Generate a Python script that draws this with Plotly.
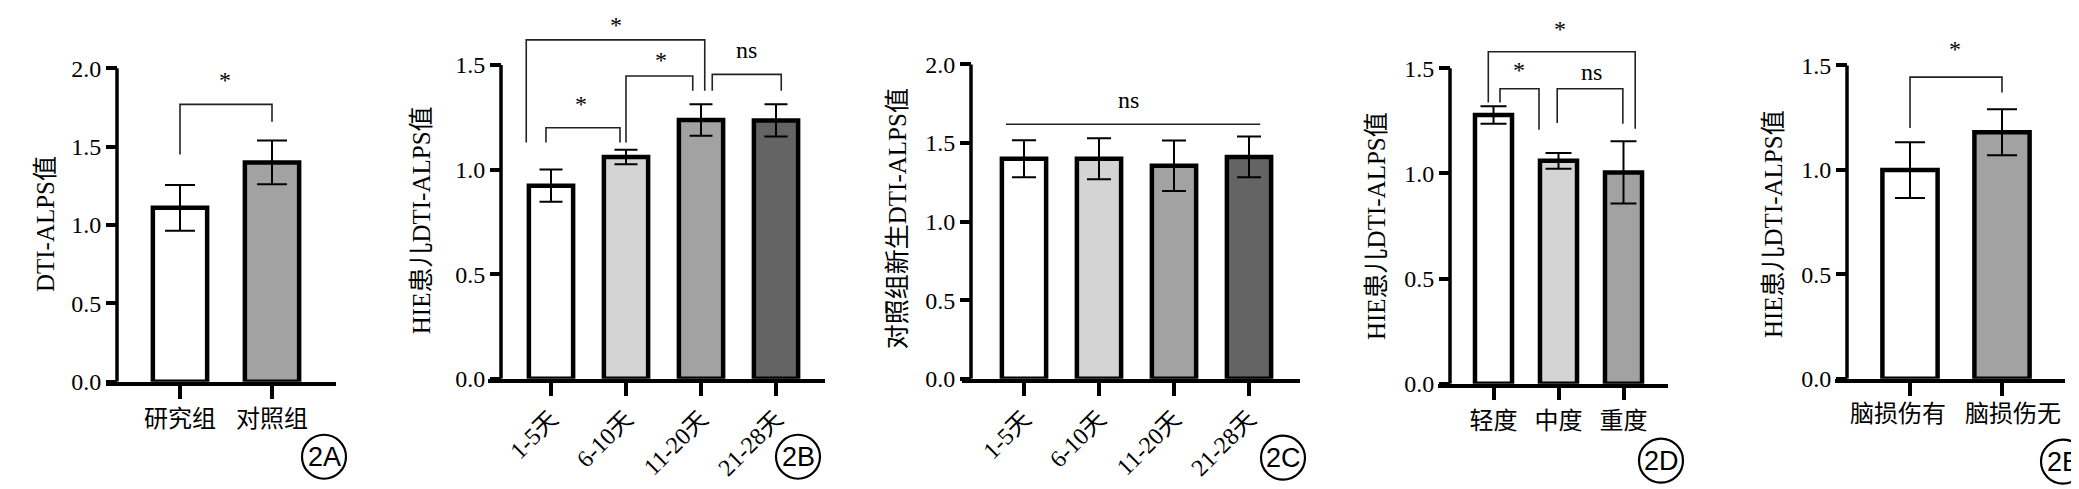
import plotly.graph_objects as go

W, H = 2079, 489

# ---------------- data ----------------
cats_A = ["研究组", "对照组"]
vals_A = [1.11, 1.40]
errs_A = [0.146, 0.14]

cats_B = ["1-5天", "6-10天", "11-20天", "21-28天"]
vals_B = [0.923, 1.06, 1.237, 1.235]
errs_B = [0.077, 0.035, 0.075, 0.077]

cats_C = ["1-5天", "6-10天", "11-20天", "21-28天"]
vals_C = [1.40, 1.40, 1.356, 1.412]
errs_C = [0.118, 0.13, 0.161, 0.13]

cats_D = ["轻度", "中度", "重度"]
vals_D = [1.278, 1.06, 1.005]
errs_D = [0.042, 0.037, 0.148]

cats_E = ["脑损伤有", "脑损伤无"]
vals_E = [0.999, 1.18]
errs_E = [0.133, 0.11]

ytitles = ["DTI-ALPS值", "HIE患儿DTI-ALPS值", "对照组新生DTI-ALPS值",
           "HIE患儿DTI-ALPS值", "HIE患儿DTI-ALPS值"]
ytickvals = [[0, 0.5, 1.0, 1.5, 2.0], [0, 0.5, 1.0, 1.5], [0, 0.5, 1.0, 1.5, 2.0],
             [0, 0.5, 1.0, 1.5], [0, 0.5, 1.0, 1.5]]
panel_labels = ["2A", "2B", "2C", "2D", "2E"]

# significance brackets: (x_left, x_right, y_bar, y_left_end, y_right_end)
brackets_A = [(0, 1, 1.77, 1.45, 1.66)]
brackets_B = [(-0.067, 0.92, 1.20, 1.13, 1.13),
              (1.0, 1.89, 1.447, 1.13, 1.377),
              (-0.33, 2.05, 1.62, 1.13, 1.377),
              (2.15, 3.07, 1.455, 1.377, 1.377)]
brackets_C = [(-0.24, 3.15, 1.62, 1.62, 1.62)]
brackets_D = [(0.10, 0.70, 1.403, 1.338, 1.208),
              (0.98, 1.99, 1.403, 1.24, 1.236),
              (-0.08, 2.18, 1.579, 1.338, 1.213)]
brackets_E = [(0, 1, 1.444, 1.20, 1.37)]
# significance labels: (x, y, text)
sig_A = [(0.49, 1.888, "*")]
sig_B = [(0.40, 1.284, "*"), (1.46, 1.493, "*"), (0.87, 1.68, "*"), (2.61, 1.553, "ns")]
sig_C = [(1.39, 1.75, "ns")]
sig_D = [(0.39, 1.463, "*"), (1.50, 1.463, "ns"), (1.02, 1.657, "*")]
sig_E = [(0.49, 1.55, "*")]

# category-label positions of panel E (labels sit a little apart from the ticks)
label_pos_E = [-0.13, 1.12]

WHITE, LIGHT, MID, DARK = "#ffffff", "#d4d4d4", "#a2a2a2", "#646464"
colors = [[WHITE, MID], [WHITE, LIGHT, MID, DARK], [WHITE, LIGHT, MID, DARK],
          [WHITE, LIGHT, MID], [WHITE, MID]]

# ---------------- layout geometry (pixels) ----------------
geo = [
    dict(xd=(98, 328), ypos=109, t0=172, step=92, y0=384, ppu=161.0, bw=0.59, cap=15, angle=0),
    dict(xd=(480, 817), ypos=493, t0=543, step=75, y0=381, ppu=215.0, bw=0.59, cap=11.5, angle=-45),
    dict(xd=(954, 1292), ypos=963, t0=1016, step=75, y0=381, ppu=161.5, bw=0.59, cap=12, angle=-45),
    dict(xd=(1430, 1660), ypos=1442, t0=1485.5, step=65, y0=386, ppu=216.0, bw=0.57, cap=13, angle=0),
    dict(xd=(1827, 2057), ypos=1839, t0=1902, step=92, y0=381, ppu=214.7, bw=0.60, cap=15, angle=0),
]
ytitle_pos = [(37, 222), (413, 218), (889, 217), (1368, 224), (1765, 222)]
circle_pos = [(316, 461), (790, 461), (1275, 462), (1653, 465), (2055, 466)]


def fx(px):
    return px / W


def fy(py):
    return 1 - py / H


cats = [cats_A, cats_B, cats_C, cats_D, cats_E]
vals = [vals_A, vals_B, vals_C, vals_D, vals_E]
errs = [errs_A, errs_B, errs_C, errs_D, errs_E]
brks = [brackets_A, brackets_B, brackets_C, brackets_D, brackets_E]
sigs = [sig_A, sig_B, sig_C, sig_D, sig_E]

SERIF = "Liberation Serif, Noto Sans CJK SC, serif"
fig = go.Figure()
layout = dict(width=W, height=H, margin=dict(l=0, r=0, t=0, b=0), autosize=False,
              paper_bgcolor="white", plot_bgcolor="rgba(0,0,0,0)", showlegend=False,
              font=dict(family=SERIF, color="black", size=24))
shapes, annotations = [], []

for i in range(5):
    g = geo[i]
    n = str(i + 1) if i > 0 else ""
    xa, ya = "x" + n, "y" + n
    idx = list(range(len(cats[i])))
    fig.add_trace(go.Bar(
        x=idx, y=vals[i], width=g["bw"], xaxis=xa, yaxis=ya,
        marker=dict(color=colors[i], line=dict(color="black", width=4.5)),
        error_y=dict(type="data", array=errs[i], visible=True, color="black",
                     thickness=2, width=g["cap"]),
    ))
    for (xl, xr, yb, yl, yr) in brks[i]:
        fig.add_trace(go.Scatter(
            x=[xl, xl, xr, xr], y=[yl, yb, yb, yr], mode="lines", xaxis=xa, yaxis=ya,
            line=dict(color="#222222", width=1.6), hoverinfo="skip"))
    for (sx, sy, st) in sigs[i]:
        shift = 6 if st == "*" else 4
        # keep the text box inside the top edge of the page
        room = g["y0"] - sy * g["ppu"] - 18
        shift = max(min(shift, room), -10)
        annotations.append(dict(x=sx, y=sy, xref=xa, yref=ya, text=st, showarrow=False,
                                xanchor="center", yanchor="middle",
                                font=dict(family=SERIF, size=24, color="black"),
                                yshift=shift))
    x0 = (g["xd"][0] - g["t0"]) / g["step"]
    x1 = (g["xd"][1] - g["t0"]) / g["step"]
    ytop = g["y0"] / g["ppu"]
    layout["xaxis" + n] = dict(
        domain=[fx(g["xd"][0]), fx(g["xd"][1])], range=[x0, x1], anchor=ya,
        tickvals=idx, ticktext=cats[i], tickangle=g["angle"],
        showticklabels=(i != 4),
        showline=True, linecolor="black", linewidth=3.5, ticks="outside",
        ticklen=13, tickwidth=3.5, tickcolor="black", showgrid=False, zeroline=False,
        tickfont=dict(family=SERIF, size=24, color="black"),
        fixedrange=True)
    layout["yaxis" + n] = dict(
        domain=[fy(g["y0"]), 1], range=[0, ytop], anchor="free",
        position=fx(g["ypos"]), tickvals=ytickvals[i], tickformat=".1f",
        showline=False, ticks="outside", ticklen=11, tickwidth=3.5, tickcolor="black",
        showgrid=False, zeroline=False,
        tickfont=dict(family=SERIF, size=24, color="black"), fixedrange=True)
    # y-axis line from 0 to top tick
    shapes.append(dict(type="line", xref="paper", yref=ya, x0=fx(g["ypos"]), x1=fx(g["ypos"]),
                       y0=0, y1=ytickvals[i][-1], line=dict(color="black", width=3.5)))
    # y title
    tx, ty = ytitle_pos[i]
    annotations.append(dict(x=fx(tx), y=fy(ty), xref="paper", yref="paper",
                            xanchor="center", yanchor="middle",
                            text=ytitles[i], textangle=-90, showarrow=False,
                            font=dict(family=SERIF, size=25, color="black")))
    # circled panel label
    cx, cy = circle_pos[i]
    shapes.append(dict(type="circle", xref="paper", yref="paper", xsizemode="pixel",
                       ysizemode="pixel", xanchor=fx(cx), yanchor=fy(cy),
                       x0=-22, x1=22, y0=-22, y1=22, line=dict(color="black", width=2.2)))
    annotations.append(dict(x=fx(cx), y=fy(cy), xref="paper", yref="paper",
                            xanchor="center", yanchor="middle",
                            text=panel_labels[i], showarrow=False,
                            font=dict(family="Liberation Sans, Arial, sans-serif", size=27,
                                      color="black")))

# extra x-axis for panel E category labels (same scale as panel E x-axis)
gE = geo[4]
layout["xaxis6"] = dict(
    domain=[fx(gE["xd"][0]), fx(gE["xd"][1])],
    range=[(gE["xd"][0] - gE["t0"]) / gE["step"], (gE["xd"][1] - gE["t0"]) / gE["step"]],
    anchor="y5", overlaying="x5", side="bottom", tickvals=label_pos_E, ticktext=cats_E,
    ticks="outside", ticklen=13, tickcolor="rgba(0,0,0,0)", tickwidth=0.1,
    showline=False, showgrid=False, zeroline=False,
    tickfont=dict(family=SERIF, size=24, color="black"), fixedrange=True)
fig.add_trace(go.Scatter(x=label_pos_E, y=[0, 0], xaxis="x6", yaxis="y5", mode="markers",
                         marker=dict(opacity=0), hoverinfo="skip"))

layout["shapes"] = shapes
layout["annotations"] = annotations
fig.update_layout(**layout)
fig.write_html("out.html")
